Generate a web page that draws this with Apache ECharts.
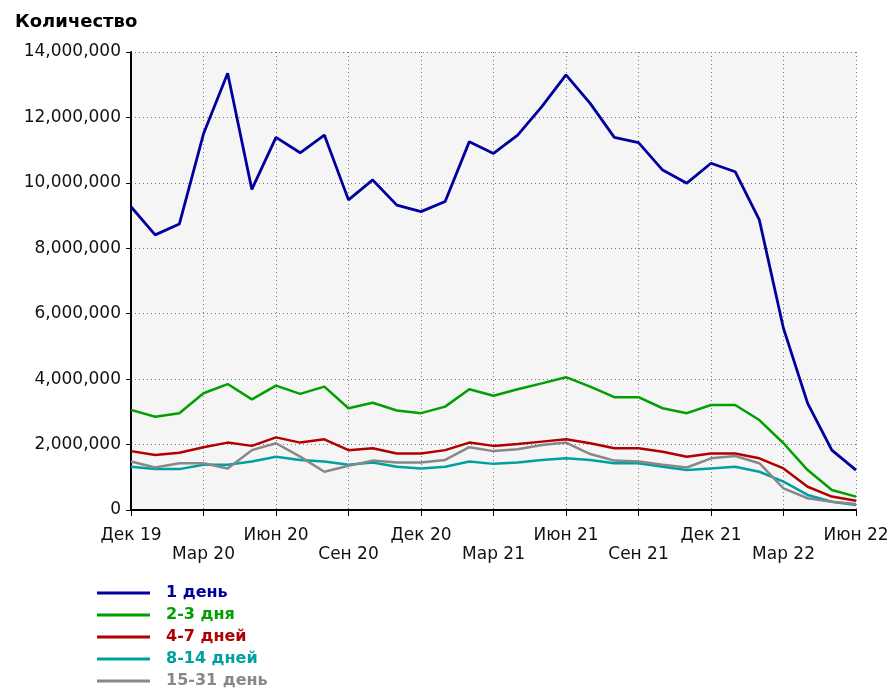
<!DOCTYPE html>
<html>
<head>
<meta charset="utf-8">
<script src="https://cdn.jsdelivr.net/npm/echarts@6/dist/echarts.min.js"></script>
<style>
  html, body { margin: 0; padding: 0; background: #fff; }
  #chart { width: 890px; height: 693px; }
</style>
</head>
<body>
<div id="chart"></div>
<script>
const months = [
  'Дек 19', 'Янв 20', 'Фев 20', 'Мар 20', 'Апр 20', 'Май 20', 'Июн 20', 'Июл 20', 'Авг 20', 'Сен 20', 'Окт 20', 'Ноя 20',
  'Дек 20', 'Янв 21', 'Фев 21', 'Мар 21', 'Апр 21', 'Май 21', 'Июн 21', 'Июл 21', 'Авг 21', 'Сен 21', 'Окт 21', 'Ноя 21',
  'Дек 21', 'Янв 22', 'Фев 22', 'Мар 22', 'Апр 22', 'Май 22', 'Июн 22'
]
const oneDay = [
  9270000, 8410000, 8740000, 11500000, 13350000, 9800000, 11390000, 10920000, 11460000, 9480000, 10090000, 9320000,
  9120000, 9430000, 11260000, 10900000, 11460000, 12330000, 13300000, 12430000, 11390000, 11230000, 10390000, 9990000,
  10600000, 10340000, 8870000, 5550000, 3260000, 1830000, 1220000
]
const twoThree = [
  3060000, 2850000, 2960000, 3570000, 3850000, 3380000, 3800000, 3550000, 3770000, 3110000, 3280000, 3040000,
  2960000, 3160000, 3690000, 3490000, 3690000, 3870000, 4060000, 3770000, 3450000, 3450000, 3110000, 2960000,
  3210000, 3210000, 2750000, 2040000, 1220000, 610000, 410000
]
const fourSeven = [
  1800000, 1680000, 1750000, 1920000, 2060000, 1960000, 2220000, 2060000, 2160000, 1830000, 1890000, 1730000,
  1730000, 1830000, 2060000, 1960000, 2020000, 2090000, 2160000, 2040000, 1890000, 1890000, 1780000, 1630000,
  1730000, 1730000, 1580000, 1270000, 710000, 410000, 280000
]
const eightFourteen = [
  1320000, 1250000, 1250000, 1380000, 1380000, 1480000, 1630000, 1530000, 1480000, 1380000, 1450000, 1320000,
  1270000, 1320000, 1480000, 1410000, 1450000, 1530000, 1580000, 1530000, 1430000, 1430000, 1320000, 1220000,
  1270000, 1320000, 1170000, 870000, 460000, 250000, 150000
]
const fifteenThirtyOne = [
  1480000, 1300000, 1430000, 1430000, 1270000, 1830000, 2040000, 1630000, 1170000, 1350000, 1510000, 1450000,
  1450000, 1530000, 1920000, 1800000, 1860000, 1990000, 2060000, 1710000, 1510000, 1480000, 1380000, 1300000,
  1580000, 1650000, 1430000, 660000, 360000, 250000, 180000
]
const seriesNames = ['1 день', '2-3 дня', '4-7 дней', '8-14 дней', '15-31 день']
const seriesColors = ['#00009c', '#00a000', '#b00000', '#00a0a0', '#888888']
const seriesData = [oneDay, twoThree, fourSeven, eightFourteen, fifteenThirtyOne]

const font = 'DejaVu Sans'
const chart = echarts.init(document.getElementById('chart'))

chart.setOption({
  animation: false,
  title: {
    text: 'Количество',
    left: 10,
    top: 8,
    textStyle: { fontFamily: font, fontSize: 18, fontWeight: 'bold', color: '#000' }
  },
  legend: {
    orient: 'vertical',
    left: 97,
    top: 584,
    padding: 0,
    height: 110,
    icon: 'rect',
    itemWidth: 53,
    itemHeight: 3,
    itemGap: 4,
    selectedMode: false,
    data: seriesNames.map((n, i) => ({
      name: n,
      textStyle: { color: seriesColors[i] }
    })),
    textStyle: { fontFamily: font, fontSize: 16, fontWeight: 'bold', lineHeight: 18, padding: [0, 0, 0, 11] }
  },
  grid: {
    left: 131,
    right: 34,
    top: 52,
    bottom: 183,
    outerBoundsMode: 'none',
    show: true,
    backgroundColor: '#f5f5f5',
    borderWidth: 0
  },
  xAxis: {
    type: 'category',
    boundaryGap: false,
    data: months,
    axisLine: { lineStyle: { color: '#000', width: 2 } },
    axisTick: {
      interval: (i) => i % 3 === 0,
      length: 6,
      lineStyle: { color: '#000', width: 1 }
    },
    axisLabel: {
      interval: (i) => i % 3 === 0,
      margin: 16,
      fontFamily: font,
      fontSize: 17,
      color: '#111',
      lineHeight: 19,
      formatter: (val, i) => (i / 3) % 2 === 1 ? '\n' + val : val
    },
    splitLine: {
      show: true,
      interval: (i) => i % 3 === 0,
      lineStyle: { color: '#777', type: [1, 3], width: 1 }
    }
  },
  yAxis: {
    type: 'value',
    min: 0,
    max: 14000000,
    interval: 2000000,
    axisLine: { show: true, lineStyle: { color: '#000', width: 2 } },
    axisTick: { show: true, length: 5, lineStyle: { color: '#000' } },
    axisLabel: {
      margin: 10,
      fontFamily: font,
      fontSize: 17,
      color: '#111',
      formatter: (v) => v.toLocaleString('en-US')
    },
    splitLine: { lineStyle: { color: '#777', type: [1, 3], width: 1 } }
  },
  series: seriesNames.map((n, i) => ({
    name: n,
    type: 'line',
    data: seriesData[i],
    showSymbol: false,
    color: seriesColors[i],
    lineStyle: { width: i === 0 ? 2.8 : 2.5, color: seriesColors[i] }
  }))
})
</script>
</body>
</html>
